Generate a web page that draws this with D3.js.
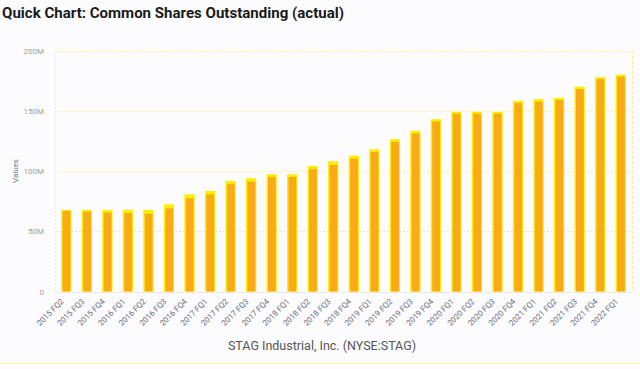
<!DOCTYPE html>
<html>
<head>
<meta charset="utf-8">
<script src="https://cdn.jsdelivr.net/npm/d3@7"></script>
<style>
  html, body { margin: 0; padding: 0; background: #fcfcfe; }
  svg { display: block; }
</style>
</head>
<body>
<svg id="chart" width="640" height="369"></svg>
<script>
const categories = [
  "2015 FQ2","2015 FQ3","2015 FQ4",
  "2016 FQ1","2016 FQ2","2016 FQ3","2016 FQ4",
  "2017 FQ1","2017 FQ2","2017 FQ3","2017 FQ4",
  "2018 FQ1","2018 FQ2","2018 FQ3","2018 FQ4",
  "2019 FQ1","2019 FQ2","2019 FQ3","2019 FQ4",
  "2020 FQ1","2020 FQ2","2020 FQ3","2020 FQ4",
  "2021 FQ1","2021 FQ2","2021 FQ3","2021 FQ4",
  "2022 FQ1"
];
// millions of shares
const sharesOuter = [67.9, 67.9, 67.9, 67.9, 67.9, 72.5, 80.8, 83.6, 91.9, 94.2, 97.5, 97.5,
  104.4, 108.3, 113.0, 118.3, 126.7, 133.6, 143.3, 149.4, 149.4, 149.4, 158.6, 160.0,
  161.1, 170.3, 178.3, 180.3];
const sharesInner = [67.0, 66.3, 65.7, 65.2, 64.6, 69.0, 77.5, 80.8, 89.2, 91.4, 95.3, 95.3,
  101.7, 105.3, 110.5, 116.1, 124.4, 131.4, 141.4, 147.8, 147.8, 147.8, 156.7, 157.8,
  159.2, 168.3, 176.7, 178.6];
const yTicks = [0, 50, 100, 150, 200];
const yTickLabels = ["0", "50M", "100M", "150M", "200M"];

const svg = d3.select("#chart");
const W = 640, H = 369;
const plot = { left: 55, right: 632, top: 51, bottom: 291.5 };

svg.append("text")
  .attr("x", 2).attr("y", 18)
  .attr("font-family", "Roboto, 'Noto Sans', sans-serif")
  .attr("font-weight", "bold")
  .attr("font-size", 15.5)
  .attr("fill", "#1a1a1a")
  .attr("textLength", 342).attr("lengthAdjust", "spacingAndGlyphs")
  .text("Quick Chart: Common Shares Outstanding (actual)");

const x = d3.scaleBand().domain(categories)
  .range([plot.left, plot.right]).paddingInner(0.5).paddingOuter(0.3);
const y = d3.scaleLinear().domain([0, 200]).range([plot.bottom, plot.top]);

// gridlines
const grid = svg.append("g");
grid.selectAll("line.h").data(yTicks.slice(1)).join("line")
  .attr("x1", plot.left).attr("x2", plot.right)
  .attr("y1", d => Math.round(y(d)) + 0.5).attr("y2", d => Math.round(y(d)) + 0.5)
  .attr("stroke", (d) => d === 50 ? "#f3dcc8" : "#f6ef9c")
  .attr("stroke-width", 1)
  .attr("stroke-dasharray", d => d === 200 ? "3,2" : "2,2");
grid.append("line")
  .attr("x1", plot.left + 0.5).attr("x2", plot.left + 0.5)
  .attr("y1", plot.top).attr("y2", plot.bottom)
  .attr("stroke", "#f6ef9c").attr("stroke-dasharray", "2,2");
grid.append("line")
  .attr("x1", plot.right + 0.5).attr("x2", plot.right + 0.5)
  .attr("y1", plot.top).attr("y2", plot.bottom)
  .attr("stroke", "#f8ec90").attr("stroke-dasharray", "3,2");
grid.append("line")
  .attr("x1", plot.left).attr("x2", plot.right)
  .attr("y1", Math.round(plot.bottom) + 0.5).attr("y2", Math.round(plot.bottom) + 0.5)
  .attr("stroke", "#efe6e6");

// y axis labels
const yAxis = d3.axisLeft(y).tickValues(yTicks)
  .tickFormat((d, i) => yTickLabels[i]).tickSize(0).tickPadding(11);
const ya = svg.append("g").attr("transform", `translate(${plot.left},0)`).call(yAxis);
ya.select(".domain").remove();
ya.selectAll("text")
  .attr("font-family", "Roboto, sans-serif").attr("font-size", 8).attr("fill", "#a3a196");

svg.append("text")
  .attr("transform", "translate(18,171) rotate(-90)")
  .attr("text-anchor", "middle")
  .attr("font-family", "Roboto, sans-serif").attr("font-size", 8).attr("fill", "#777")
  .text("Values");

// bars
const bars = svg.append("g");
bars.selectAll("rect.outer").data(categories).join("rect")
  .attr("class", "outer")
  .attr("x", d => x(d)).attr("width", x.bandwidth())
  .attr("y", (d, i) => y(sharesOuter[i]))
  .attr("height", (d, i) => y(0) - y(sharesOuter[i]))
  .attr("fill", "#fbee00");
bars.selectAll("rect.inner").data(categories).join("rect")
  .attr("class", "inner")
  .attr("x", d => x(d) + 1.5).attr("width", x.bandwidth() - 2.5)
  .attr("y", (d, i) => y(sharesInner[i]))
  .attr("height", (d, i) => y(0) - y(sharesInner[i]))
  .attr("fill", "#f8ab16");

// x axis labels
const xAxis = d3.axisBottom(x).tickSize(0).tickPadding(0);
const xa = svg.append("g").attr("transform", `translate(0,${plot.bottom})`).call(xAxis);
xa.select(".domain").remove();
xa.selectAll("text")
  .attr("font-family", "Roboto, sans-serif").attr("font-size", 8).attr("fill", "#6a6a78")
  .attr("text-anchor", "end")
  .attr("dy", 0)
  .attr("transform", "translate(-2,10.5) rotate(-45)");

// source caption
svg.append("text")
  .attr("x", 322).attr("y", 350)
  .attr("text-anchor", "middle")
  .attr("font-family", "Roboto, 'Noto Sans', sans-serif").attr("font-size", 12.5)
  .attr("fill", "#555")
  .text("STAG Industrial, Inc. (NYSE:STAG)");

svg.append("line")
  .attr("x1", 0).attr("x2", W).attr("y1", 363.5).attr("y2", 363.5)
  .attr("stroke", "#f8f2a0");
</script>
</body>
</html>
